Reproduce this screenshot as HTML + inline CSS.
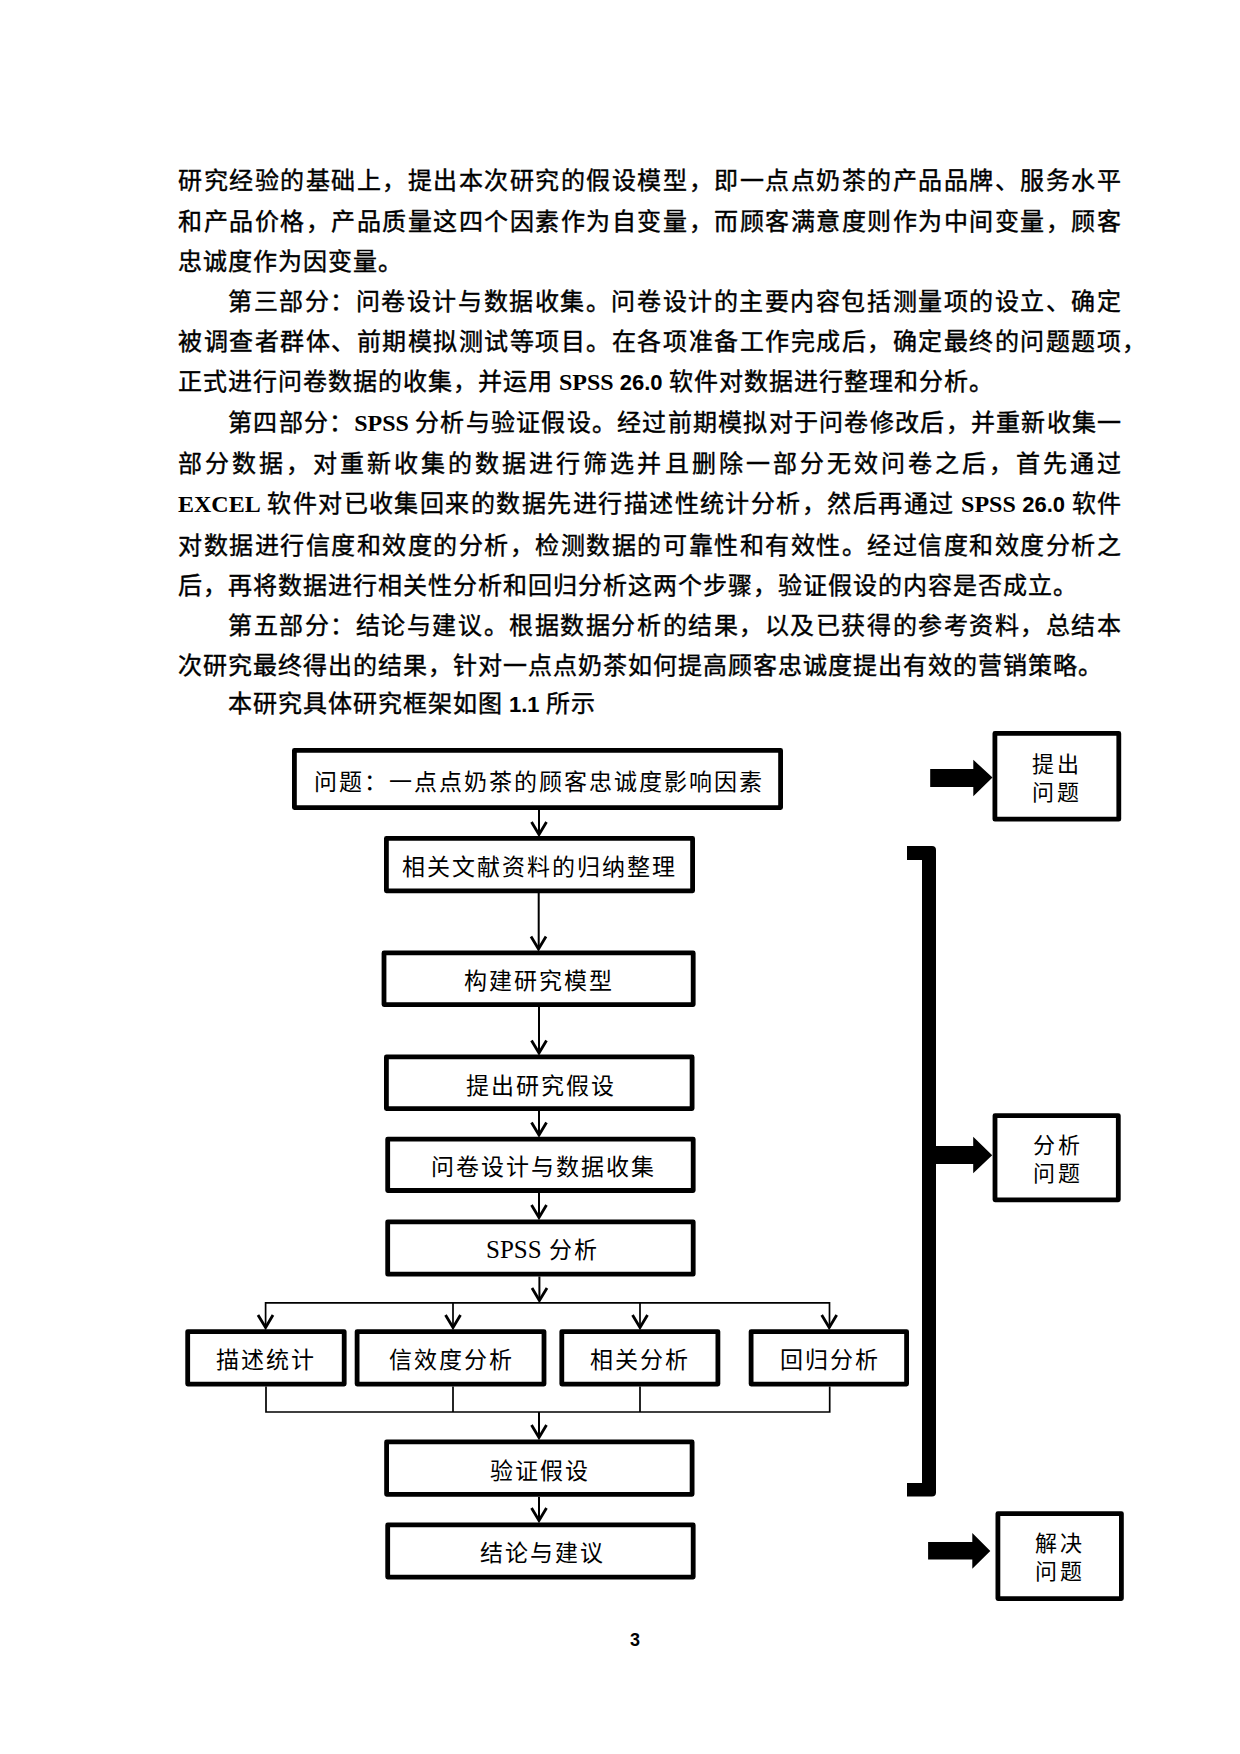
<!DOCTYPE html>
<html lang="zh-CN">
<head>
<meta charset="utf-8">
<title>page 3</title>
<style>
html,body{margin:0;padding:0;background:#fff;}
body{width:1240px;height:1754px;position:relative;overflow:hidden;font-family:"Liberation Serif",serif;color:#000;}
.ln{position:absolute;left:178px;width:944px;height:40px;font-size:24px;letter-spacing:1px;line-height:40px;white-space:nowrap;font-weight:400;-webkit-text-stroke:0.4px #000;word-spacing:-1px;}
.j{text-align:justify;text-align-last:justify;}
.in{left:228px;width:894px;}
.b{font-weight:700;font-size:24px;letter-spacing:0;-webkit-text-stroke:0;}
.n{font-family:"Liberation Sans",sans-serif;font-weight:700;font-size:22px;letter-spacing:0;-webkit-text-stroke:0;}
.fc{position:absolute;font-size:23px;letter-spacing:2px;line-height:30px;white-space:nowrap;font-weight:400;}
.rc{position:absolute;font-size:22px;letter-spacing:3px;line-height:28px;white-space:nowrap;font-weight:400;width:60px;}
svg{position:absolute;left:0;top:0;}
</style>
</head>
<body>
<div class="ln j" style="top:161px">研究经验的基础上，提出本次研究的假设模型，即一点点奶茶的产品品牌、服务水平</div>
<div class="ln j" style="top:202px">和产品价格，产品质量这四个因素作为自变量，而顾客满意度则作为中间变量，顾客</div>
<div class="ln" style="top:242px">忠诚度作为因变量。</div>
<div class="ln j in" style="top:282px">第三部分：问卷设计与数据收集。问卷设计的主要内容包括测量项的设立、确定</div>
<div class="ln j" style="top:322px">被调查者群体、前期模拟测试等项目。在各项准备工作完成后，确定最终的问题题项</div>
<div class="ln" style="top:322px;left:1122px;width:30px">，</div>
<div class="ln" style="top:362px">正式进行问卷数据的收集，并运用 <span class="b">SPSS</span> <span class="n">26.0</span> 软件对数据进行整理和分析。</div>
<div class="ln j in" style="top:403px">第四部分：<span class="b">SPSS</span> 分析与验证假设。经过前期模拟对于问卷修改后，并重新收集一</div>
<div class="ln j" style="top:444px">部分数据，对重新收集的数据进行筛选并且删除一部分无效问卷之后，首先通过</div>
<div class="ln j" style="top:484px"><span class="b">EXCEL</span> 软件对已收集回来的数据先进行描述性统计分析，然后再通过 <span class="b">SPSS</span> <span class="n">26.0</span> 软件</div>
<div class="ln j" style="top:526px">对数据进行信度和效度的分析，检测数据的可靠性和有效性。经过信度和效度分析之</div>
<div class="ln" style="top:566px">后，再将数据进行相关性分析和回归分析这两个步骤，验证假设的内容是否成立。</div>
<div class="ln j in" style="top:606px">第五部分：结论与建议。根据数据分析的结果，以及已获得的参考资料，总结本</div>
<div class="ln" style="top:646px">次研究最终得出的结果，针对一点点奶茶如何提高顾客忠诚度提出有效的营销策略。</div>
<div class="ln in" style="top:684px">本研究具体研究框架如图 <span class="n">1.1</span> 所示</div>

<svg width="1240" height="1754" viewBox="0 0 1240 1754">
<g fill="none" stroke="#000" stroke-width="4.8" stroke-linejoin="round">
<rect x="294.4" y="750.4" width="486.2" height="57.2"/>
<rect x="386.4" y="838.4" width="306.2" height="52.4"/>
<rect x="384" y="952.9" width="309.2" height="51.7"/>
<rect x="386.4" y="1056.9" width="305.7" height="51.7"/>
<rect x="387.7" y="1139.1" width="305.5" height="51.4"/>
<rect x="387.7" y="1221.8" width="305.5" height="52.4"/>
<rect x="187.7" y="1331.6" width="156.5" height="52.5"/>
<rect x="357.1" y="1331.6" width="186.9" height="52.5"/>
<rect x="561.8" y="1331.6" width="156.1" height="52.5"/>
<rect x="751.1" y="1331.6" width="155.5" height="52.5"/>
<rect x="386.6" y="1441.9" width="305.5" height="52.4"/>
<rect x="387.7" y="1524.9" width="305.5" height="52.2"/>
<rect x="994.9" y="733.4" width="123.9" height="85.8"/>
<rect x="995" y="1115.6" width="123.3" height="84.2"/>
<rect x="997.9" y="1513.6" width="123.5" height="85"/>
</g>
<g fill="none" stroke="#000" stroke-width="2">
<path d="M539 810V834M538.7 893V948M539 1007V1052M539 1111V1134M539 1193V1217M539.4 1276.6V1300"/>
<path d="M539 1412V1437M539 1497V1520"/>
</g>
<g fill="none" stroke="#000" stroke-width="1.7">
<path d="M265.6 1328V1302.9H829.5V1328M453 1302.9V1328M640 1302.9V1328"/>
<path d="M266 1386.5V1412H829.7V1386.5M453 1386.5V1412M640 1386.5V1412"/>
</g>
<g fill="none" stroke="#000" stroke-width="2.8" stroke-linejoin="miter">
<path d="M531.5 822L539 834.5L546.5 822"/>
<path d="M531 936.5L538.5 949L546 936.5"/>
<path d="M531.5 1040.5L539 1053L546.5 1040.5"/>
<path d="M531.5 1122.5L539 1135L546.5 1122.5"/>
<path d="M531.5 1205L539 1217.5L546.5 1205"/>
<path d="M532 1288L539.4 1300.5L547 1288"/>
<path d="M258 1315L265.6 1327.5L273 1315"/>
<path d="M445.5 1315L453 1327.5L460.5 1315"/>
<path d="M632.5 1315L640 1327.5L647.5 1315"/>
<path d="M821.7 1315L829.2 1327.5L836.7 1315"/>
<path d="M531.5 1425L539 1437.5L546.5 1425"/>
<path d="M531.5 1508L539 1520.5L546.5 1508"/>
</g>
<g fill="#000">
<path d="M930.2 769.1H973.3V759.8L992.5 777.6L973.3 796.2V786.9H930.2Z"/>
<path d="M936 1146H973.2V1136.8L992.2 1155.2L973.2 1173.2V1164H936Z"/>
<path d="M928.1 1542H972.3V1532.9L990.3 1550.9L972.3 1568.7V1559.6H928.1Z"/>
<path d="M907 846H932Q936 846 936 850V1492.5Q936 1496.5 932 1496.5H907V1483H922V860H907Z"/>
</g>
</svg>

<div class="fc" style="left:314px;top:767.5px">问题：一点点奶茶的顾客忠诚度影响因素</div>
<div class="fc" style="left:402px;top:853px">相关文献资料的归纳整理</div>
<div class="fc" style="left:464px;top:967px">构建研究模型</div>
<div class="fc" style="left:466px;top:1071.5px">提出研究假设</div>
<div class="fc" style="left:431px;top:1152.5px">问卷设计与数据收集</div>
<div class="fc" style="left:486px;top:1235px"><span style="font-size:25px;letter-spacing:0">SPSS</span> 分析</div>
<div class="fc" style="left:216px;top:1346px">描述统计</div>
<div class="fc" style="left:389px;top:1346px">信效度分析</div>
<div class="fc" style="left:590px;top:1345.5px">相关分析</div>
<div class="fc" style="left:780px;top:1345.5px">回归分析</div>
<div class="fc" style="left:490px;top:1457px">验证假设</div>
<div class="fc" style="left:480px;top:1539px">结论与建议</div>
<div class="rc" style="left:1032px;top:751px">提出<br>问题</div>
<div class="rc" style="left:1033px;top:1132px">分析<br>问题</div>
<div class="rc" style="left:1035px;top:1530px">解决<br>问题</div>

<div style="position:absolute;left:630px;top:1628px;font-family:'Liberation Sans',sans-serif;font-weight:700;font-size:18px;line-height:24px">3</div>
</body>
</html>
